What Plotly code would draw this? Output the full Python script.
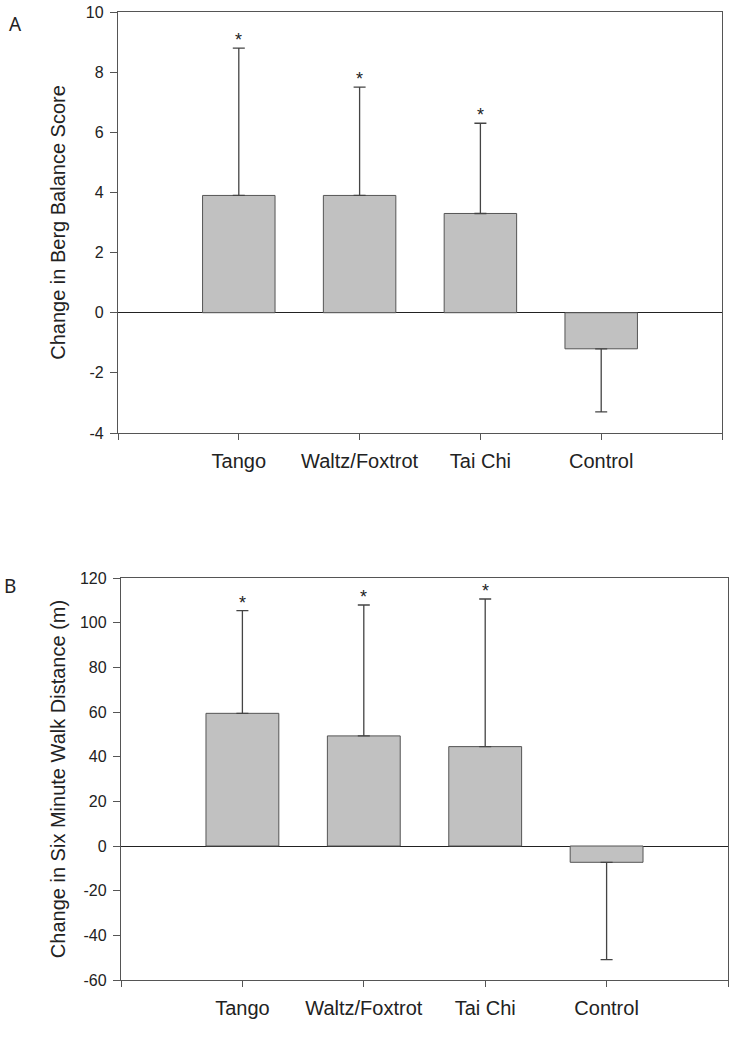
import plotly.graph_objects as go

categories = ["Tango", "Waltz/Foxtrot", "Tai Chi", "Control"]
berg_change = [3.9, 3.9, 3.3, -1.2]
berg_err_up = [4.9, 3.6, 3.0, 0.0]
berg_err_down = [0.0, 0.0, 0.0, 2.1]
walk_change = [59.4, 49.3, 44.5, -7.3]
walk_err_up = [46.0, 58.6, 66.1, 0.0]
walk_err_down = [0.0, 0.0, 0.0, 43.6]
significant = [True, True, True, False]
berg_ticks = [-4, -2, 0, 2, 4, 6, 8, 10]
walk_ticks = [-60, -40, -20, 0, 20, 40, 60, 80, 100, 120]

xpos = list(range(1, len(categories) + 1))
AX = "#555555"
TXT = "#222222"
BAR = "#c1c1c1"
FONT = "Liberation Sans, Arial, sans-serif"
W, H = 736, 1050


def px_x(p):
    return p / W


def px_y(p):
    return 1 - p / H


fig = go.Figure()


def add_panel(vals, up, down, xa, ya):
    fig.add_trace(go.Bar(
        x=xpos, y=vals, width=0.6, xaxis=xa, yaxis=ya,
        marker=dict(color=BAR, line=dict(color=AX, width=1)),
        error_y=dict(type="data", symmetric=False, array=up, arrayminus=down,
                     color="#444444", thickness=1.3, width=6),
        showlegend=False, hoverinfo="skip",
    ))
    for x, v, e, s in zip(xpos, vals, up, significant):
        if s:
            fig.add_annotation(x=x, y=v + e, xref=xa, yref=ya, text="*",
                               showarrow=False, yanchor="bottom", yshift=-4,
                               font=dict(family=FONT, size=18, color=TXT))


add_panel(berg_change, berg_err_up, berg_err_down, "x", "y")
add_panel(walk_change, walk_err_up, walk_err_down, "x2", "y2")

xt_vals = [0] + xpos + [len(categories) + 1]
xt_text = [""] + categories + [""]

common_x = dict(range=[0, len(categories) + 1], tickvals=xt_vals, ticktext=xt_text,
                showline=True, mirror=True, linecolor=AX, linewidth=1.3,
                ticks="outside", ticklen=6, tickwidth=1.3, tickcolor=AX,
                showgrid=False, zeroline=False, automargin=False,
                tickfont=dict(family=FONT, size=20, color=TXT),
                ticklabelstandoff=4, fixedrange=True)

common_y = dict(showline=True, mirror=True, linecolor=AX, linewidth=1.3,
                ticks="outside", ticklen=7, tickwidth=1.3, tickcolor=AX,
                showgrid=False, zeroline=True, zerolinecolor="#222222", zerolinewidth=1.3,
                automargin=False,
                tickfont=dict(family=FONT, size=16, color=TXT),
                ticklabelstandoff=3, fixedrange=True)

fig.update_layout(
    width=W, height=H,
    margin=dict(l=0, r=0, t=0, b=0, autoexpand=False),
    paper_bgcolor="white", plot_bgcolor="white",
    xaxis=dict(domain=[px_x(118), px_x(722)], anchor="y", **common_x),
    yaxis=dict(domain=[px_y(433), px_y(12)], anchor="x",
               range=[-4, 10], tickvals=berg_ticks,
               ticktext=[str(t) for t in berg_ticks],
               title=dict(text="Change in Berg Balance Score", standoff=14,
                          font=dict(family=FONT, size=20, color=TXT)),
               **common_y),
    xaxis2=dict(domain=[px_x(121), px_x(728)], anchor="y2", **common_x),
    yaxis2=dict(domain=[px_y(980), px_y(578)], anchor="x2",
                range=[-60, 120], tickvals=walk_ticks,
                ticktext=[str(t) for t in walk_ticks],
                title=dict(text="Change in Six Minute Walk Distance (m)", standoff=8,
                           font=dict(family=FONT, size=20, color=TXT)),
                **common_y),
)

fig.add_annotation(x=px_x(7), y=px_y(24), xref="paper", yref="paper",
                   text="A", showarrow=False, xanchor="left", yanchor="middle",
                   font=dict(family="Noto Sans, sans-serif", size=19, color=TXT))
fig.add_annotation(x=px_x(2), y=px_y(586), xref="paper", yref="paper",
                   text="B", showarrow=False, xanchor="left", yanchor="middle",
                   font=dict(family="Noto Sans, sans-serif", size=19, color=TXT))

fig.write_html("out.html", config={"displayModeBar": False},
               post_script="document.body.style.margin='0';")
